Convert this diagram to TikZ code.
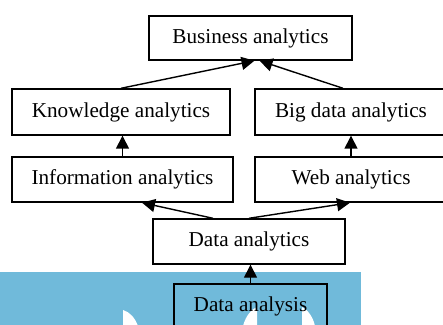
\documentclass[tikz,border=0pt]{standalone}
\usepackage{fontspec}
\setmainfont{Liberation Serif}
\usetikzlibrary{arrows.meta}
\definecolor{wmblue}{RGB}{112,186,218}

\begin{document}
\begin{tikzpicture}[x=0.5pt,y=-0.5pt,
	box/.style={draw,line width=0.7pt,minimum height=22.5pt,inner sep=0pt,font=\fontsize{10.6}{12}\selectfont}]
	\useasboundingbox (0,0) rectangle (443,325);
	\clip (0,0) rectangle (443,325);
	% blue band at the bottom
	\fill[wmblue] (0,272) rectangle (361,330);
	\fill[white] (123,326) -- (123,310) .. controls (130,312) and (135,318) .. (138,326) -- cycle;
	\fill[white] (243,326) .. controls (246,315) and (252,309) .. (257,307) -- (257,326) -- cycle;
	\fill[white] (302,326) -- (302,307) .. controls (308,310) and (313,317) .. (315,326) -- cycle;
	
	\node[box,minimum width=101.5pt,minimum height=22pt] (bus) at (250.5,38) {Business analytics};
	\node[box,minimum width=109pt,minimum height=23pt] (know) at (121,112) {Knowledge analytics};
	\node[box,minimum width=96pt,minimum height=23pt] (big) at (351,112) {Big data analytics};
	\node[box,minimum width=110.5pt] (info) at (122.5,179.5) {Information analytics};
	\node[box,minimum width=96pt] (web) at (351,179.5) {Web analytics};
	\node[box,minimum width=96pt] (dana) at (249,241.5) {Data analytics};
	\node[box,minimum width=76.5pt] (dsis) at (250.5,306.5) {Data analysis};
	
	\path[-{Triangle[length=6.5pt,width=6.5pt]},line width=0.7pt]
	(know.north) edge ([xshift=2pt]bus.south)
	([xshift=-4pt]big.north) edge ([xshift=4.5pt]bus.south)
	(info.north) edge (info.north |- know.south)
	(web.north) edge (big.south)
	([xshift=-18pt]dana.north) edge ([xshift=9.75pt]info.south)
	(dana.north) edge ([xshift=-0.5pt]web.south)
	(dsis.north) edge (dsis.north |- dana.south);
\end{tikzpicture}
\end{document}
